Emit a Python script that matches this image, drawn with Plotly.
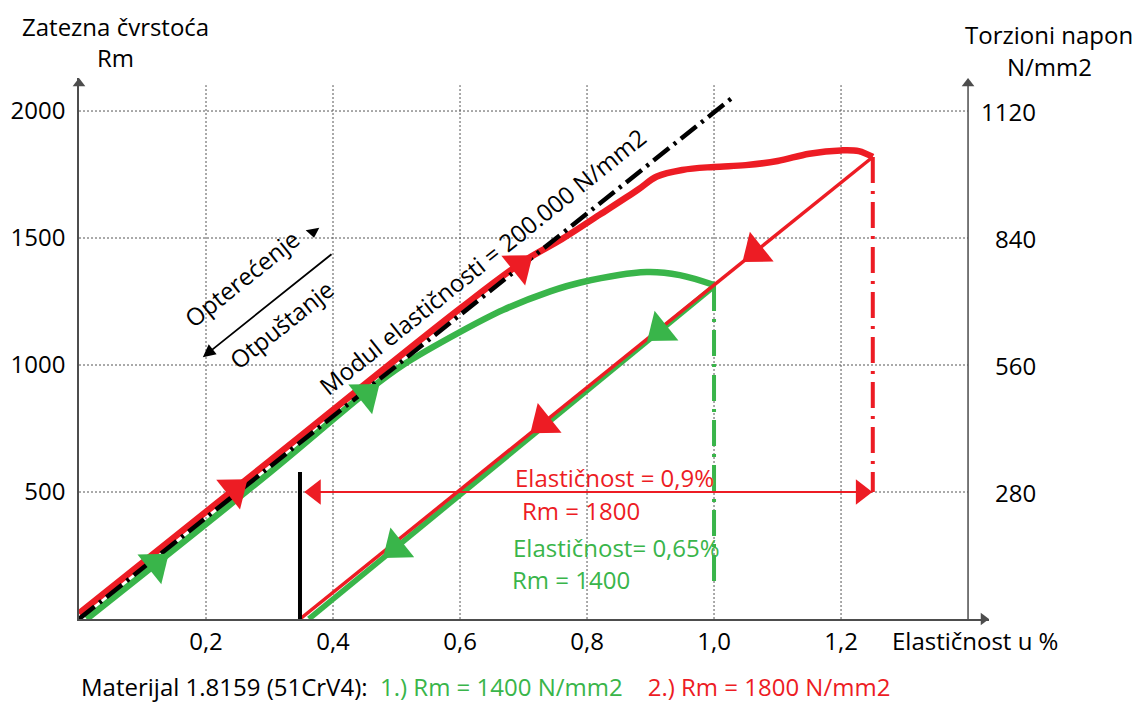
import math
import plotly.graph_objects as go

RED = "#ED1C24"
GREEN = "#39B54A"
GRID = "#555555"
AXIS = "#4d4d4d"
FONT = "Open Sans"

# ---------------- data ----------------
x_ticks = [0.2, 0.4, 0.6, 0.8, 1.0, 1.2]
x_ticktext = ["0,2", "0,4", "0,6", "0,8", "1,0", "1,2"]
y_ticks = [500, 1000, 1500, 2000]
y_ticktext = ["500", "1000", "1500", "2000"]
y2_ticks = [280, 560, 840, 1120]
y2_ticktext = ["280", "560", "840", "1120"]

modulus_x = [0.0, 1.03]
modulus_y = [0, 2055]

red_load_x = [0.0, 0.3, 0.6, 0.7, 0.76, 0.82, 0.88, 0.91, 0.95, 1.0, 1.05, 1.1, 1.15, 1.2, 1.228, 1.25]
red_load_y = [22, 622, 1222, 1408, 1495, 1592, 1690, 1742, 1768, 1780, 1787, 1803, 1832, 1845, 1842, 1819]
red_unload_x = [1.25, 0.348]
red_unload_y = [1819, 0]
red_limit_x = [1.25, 1.25]
red_limit_y = [1819, 500]

green_load_x = [0.012, 0.3, 0.458, 0.51, 0.6, 0.668, 0.742, 0.79, 0.894, 0.946, 1.0]
green_load_y = [0, 576, 905, 1000, 1130, 1217, 1290, 1325, 1366, 1354, 1315]
green_unload_x = [1.0, 0.362]
green_unload_y = [1310, 0]
green_limit_x = [1.0, 1.0]
green_limit_y = [1315, 122]

span_x = [0.356, 1.249]
span_y = [500, 500]
span_head_x = [0.372, 1.232]
span_head_y = [500, 500]
offset_x = [0.348, 0.348]
offset_y = [0, 579]

red_load_arrow_x = [0.245, 0.694]
red_load_arrow_y = [510, 1392]
green_load_arrow_x = [0.121, 0.453]
green_load_arrow_y = [216, 885]
red_unload_arrow_x = [1.065, 0.731]
red_unload_arrow_y = [1446, 772]
green_unload_arrow_x = [0.915, 0.499]
green_unload_arrow_y = [1135, 281]

legend_tri_x = [0.3685]
legend_tri_y = [1524]
legend_arrow_tail = (0.400, 1441)
legend_arrow_head = (0.195, 1031)

# ---------------- layout geometry ----------------
W, H = 1136, 702
ML, MR, MT, MB = 79, 147, 78, 83
X_MAX = 1.433
Y_MAX = 2130
RIGHT_AXIS_X = 1.4
GRID_TOP = 2102
TAU_RATIO = 0.56
SLOPE = 2000.0

plot_w = W - ML - MR
plot_h = H - MT - MB
px_x = plot_w / X_MAX
px_y = plot_h / Y_MAX
load_angle = math.degrees(math.atan2(px_x, SLOPE * px_y))
unload_angle = load_angle + 180
text_angle = -math.degrees(math.atan2(SLOPE * px_y, px_x))

fig = go.Figure()

def line(x, y, color, width, dash="solid", shape="linear"):
    fig.add_trace(go.Scatter(x=x, y=y, mode="lines",
                             line=dict(color=color, width=width, dash=dash, shape=shape),
                             hoverinfo="skip", showlegend=False, cliponaxis=False))

def marks(x, y, color, symbol, size, angle=0):
    fig.add_trace(go.Scatter(x=x, y=y, mode="markers",
                             marker=dict(color=color, symbol=symbol, size=size, angle=angle,
                                         line=dict(width=0)),
                             hoverinfo="skip", showlegend=False, cliponaxis=False))

# curves
line(green_load_x, green_load_y, GREEN, 6.5, shape="spline")
line(green_unload_x, green_unload_y, GREEN, 5.5)
line(green_limit_x, green_limit_y, GREEN, 4, dash="26px,8px,3px,8px")
line(red_load_x, red_load_y, RED, 6.5, shape="spline")
line(red_unload_x, red_unload_y, RED, 3.5)
line(red_limit_x, red_limit_y, RED, 4, dash="26px,8px,3px,8px")
line(modulus_x, modulus_y, "black", 4.5, dash="20px,6px,3px,6px")
line(offset_x, offset_y, "black", 4)
line(span_x, span_y, RED, 2)
marks(span_head_x[:1], span_head_y[:1], RED, "triangle-left", 22)
marks(span_head_x[1:], span_head_y[1:], RED, "triangle-right", 22)

# direction arrowheads
AS = 33
marks(red_load_arrow_x, red_load_arrow_y, RED, "triangle-up", AS, load_angle)
marks(green_load_arrow_x, green_load_arrow_y, GREEN, "triangle-up", AS, load_angle)
marks(red_unload_arrow_x, red_unload_arrow_y, RED, "triangle-up", AS, unload_angle)
marks(green_unload_arrow_x, green_unload_arrow_y, GREEN, "triangle-up", AS, unload_angle)
marks(legend_tri_x, legend_tri_y, "black", "triangle-down", 12, -10)

# axis arrowheads
ah = 11
tip_off_x = (ah / 2) / px_x
tip_off_y = (ah / 2) / px_y
marks([X_MAX - tip_off_x], [0], AXIS, "triangle-right", ah)
marks([0, RIGHT_AXIS_X], [Y_MAX - tip_off_y] * 2, AXIS, "triangle-up", ah)

# gridlines
shapes = []
for xv in x_ticks:
    shapes.append(dict(type="line", xref="x", yref="y", x0=xv, x1=xv, y0=0, y1=GRID_TOP,
                       line=dict(color=GRID, width=1, dash="2px,2px"), layer="below"))
for yv in y_ticks:
    shapes.append(dict(type="line", xref="x", yref="y", x0=0, x1=RIGHT_AXIS_X, y0=yv, y1=yv,
                       line=dict(color=GRID, width=1, dash="2px,2px"), layer="below"))
# right axis line
shapes.append(dict(type="line", xref="x", yref="y", x0=RIGHT_AXIS_X, x1=RIGHT_AXIS_X, y0=0, y1=Y_MAX - tip_off_y,
                   line=dict(color=AXIS, width=1.5)))

def px2paper_x(p):
    return (p - ML) / plot_w

def px2paper_y(p):
    return (H - MB - p) / plot_h

ann = []
def txt(text, x, y, size=24, color="black", xref="paper", yref="paper", xanchor="center", angle=0):
    ann.append(dict(text=text, x=x, y=y, xref=xref, yref=yref, showarrow=False,
                    xanchor=xanchor, yanchor="middle", textangle=angle,
                    font=dict(family=FONT, size=size, color=color)))

txt("Zatezna čvrstoća", px2paper_x(115), px2paper_y(27))
txt("Rm", px2paper_x(115), px2paper_y(58))
txt("Torzioni napon", px2paper_x(1049), px2paper_y(34))
txt("N/mm2", px2paper_x(1049), px2paper_y(67))
txt("Elastičnost u %", px2paper_x(975), px2paper_y(640))
for v, t in zip(y2_ticks, y2_ticktext):
    txt(t, px2paper_x(1038), v, xref="paper", yref="y2", xanchor="right")

txt("Elastičnost = 0,9%", 0.844, 559, color=RED, xref="x", yref="y")
txt("Rm = 1800", 0.791, 429, color=RED, xref="x", yref="y")
txt("Elastičnost= 0,65%", 0.846, 283, color=GREEN, xref="x", yref="y")
txt("Rm = 1400", 0.775, 157, color=GREEN, xref="x", yref="y")
txt("Modul elastičnosti = 200.000 N/mm2", 0.635, 1406, xref="x", yref="y", angle=text_angle)
txt("Opterećenje", 0.256, 1340, xref="x", yref="y", angle=text_angle)
txt("Otpuštanje", 0.318, 1161, xref="x", yref="y", angle=text_angle)

nb = "\u00a0"
bottom = ("Materijal 1.8159 (51CrV4):" + nb * 2 +
          f"<span style='color:{GREEN}'>1.) Rm = 1400 N/mm2</span>" + nb * 4 +
          f"<span style='color:{RED}'>2.) Rm = 1800 N/mm2</span>")
txt(bottom, 0, px2paper_y(686), size=24, xanchor="left")

ann.append(dict(x=legend_arrow_head[0], y=legend_arrow_head[1], ax=legend_arrow_tail[0], ay=legend_arrow_tail[1],
                xref="x", yref="y", axref="x", ayref="y", showarrow=True, arrowhead=2,
                arrowsize=1.4, arrowwidth=1.8, arrowcolor="black", text=""))

fig.update_layout(
    width=W, height=H,
    margin=dict(l=ML, r=MR, t=MT, b=MB, pad=0),
    plot_bgcolor="white", paper_bgcolor="white",
    showlegend=False,
    font=dict(family=FONT, size=24, color="black"),
    xaxis=dict(range=[0, X_MAX], tickvals=x_ticks, ticktext=x_ticktext, showgrid=False,
               zeroline=False, showline=True, linecolor=AXIS, linewidth=1.5, ticks="",
               tickfont=dict(family=FONT, size=24, color="black"), fixedrange=True),
    yaxis=dict(range=[0, Y_MAX], tickvals=y_ticks, ticktext=y_ticktext, showgrid=False,
               zeroline=False, showline=True, linecolor=AXIS, linewidth=1.5, ticks="",
               ticklabelstandoff=7,
               tickfont=dict(family=FONT, size=24, color="black"), fixedrange=True),
    yaxis2=dict(range=[0, Y_MAX * TAU_RATIO], overlaying="y", side="right", showgrid=False,
                zeroline=False, showline=False, showticklabels=False, ticks="", fixedrange=True),
    shapes=shapes,
    annotations=ann,
)

fig.write_html("out.html", config={"displayModeBar": False},
               post_script="document.body.style.margin='0';document.body.style.overflow='hidden';")
